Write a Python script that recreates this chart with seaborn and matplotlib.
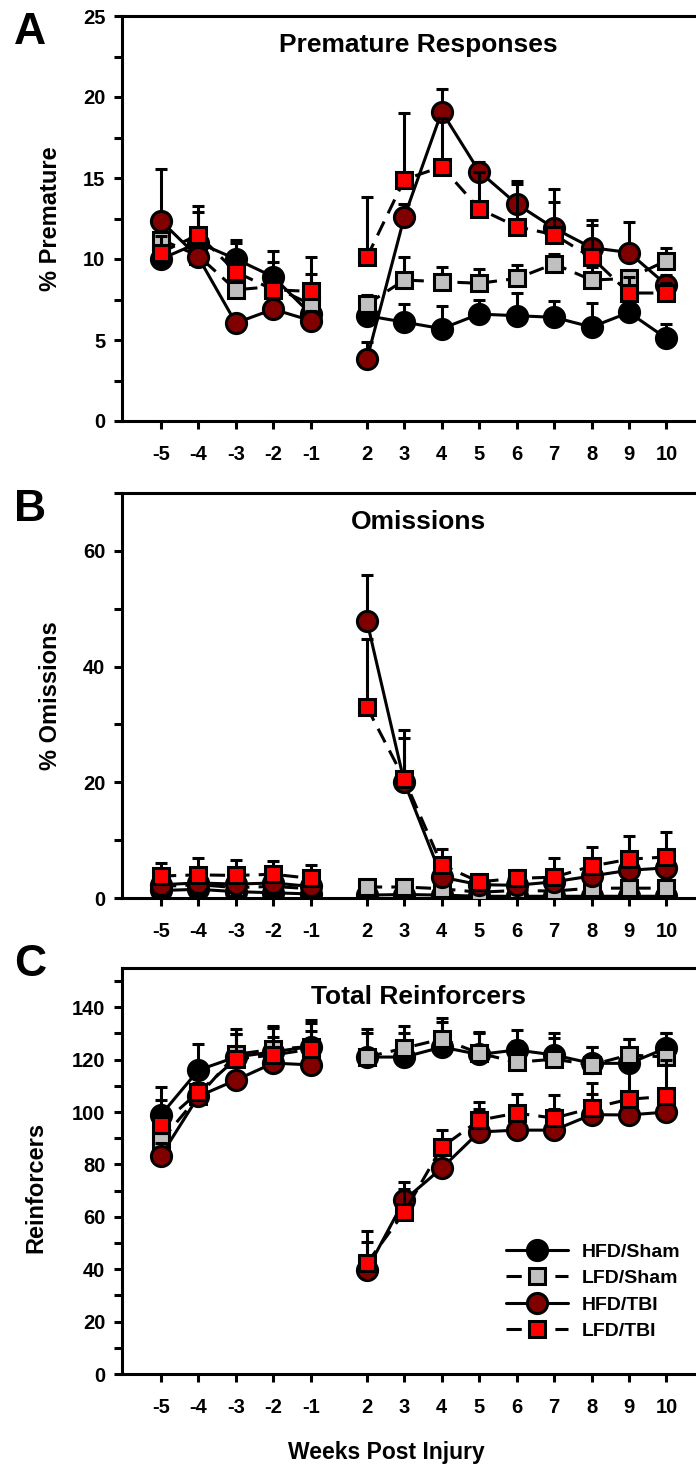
import numpy as np
import pandas as pd
import matplotlib
matplotlib.use("Agg")
import matplotlib.pyplot as plt
from matplotlib.lines import Line2D
from matplotlib.ticker import MultipleLocator
import seaborn as sns

weeks = [-5, -4, -3, -2, -1, 2, 3, 4, 5, 6, 7, 8, 9, 10]
groups = ["HFD/Sham", "LFD/Sham", "HFD/TBI", "LFD/TBI"]

# A - premature responses (%), mean and SEM
prem_hfd_sham = [10.0, 11.0, 10.0, 8.9, 6.6, 6.5, 6.1, 5.7, 6.6, 6.5, 6.4, 5.8, 6.7, 5.1]
prem_hfd_sham_err = [1.0, 1.9, 1.2, 1.6, 0.8, 0.8, 1.1, 1.4, 0.9, 1.4, 1.0, 1.5, 0.6, 0.9]
prem_lfd_sham = [11.2, 10.2, 8.1, 8.3, 7.2, 7.2, 8.7, 8.6, 8.5, 8.8, 9.7, 8.7, 8.8, 9.9]
prem_lfd_sham_err = [0.8, 1.0, 0.6, 0.8, 1.9, 0.6, 1.4, 0.9, 0.9, 0.8, 0.6, 0.8, 0.5, 0.8]
prem_hfd_tbi = [12.35, 10.1, 6.05, 6.9, 6.2, 3.8, 12.6, 19.1, 15.4, 13.4, 11.9, 10.7, 10.4, 8.4]
prem_hfd_tbi_err = [3.2, 0.8, 0.5, 0.6, 0.6, 1.1, 0.8, 1.4, 0.6, 1.4, 2.4, 1.7, 1.9, 0.6]
prem_lfd_tbi = [10.4, 11.5, 9.2, 8.1, 8.0, 10.1, 14.9, 15.7, 13.1, 12.0, 11.5, 10.1, 7.9, 7.9]
prem_lfd_tbi_err = [1.0, 1.8, 1.8, 1.7, 2.1, 3.7, 4.1, 3.0, 2.3, 2.6, 2.0, 2.0, 1.0, 0.6]

# B - omissions (%)
omis_hfd_sham = [1.3, 1.5, 1.1, 0.9, 0.7, 0.5, 0.6, 0.5, 0.3, 0.3, 0.3, 0.3, 0.3, 0.3]
omis_hfd_sham_err = [0.5, 0.5, 0.4, 0.4, 0.3, 0.3, 0.3, 0.3, 0.2, 0.2, 0.2, 0.2, 0.2, 0.2]
omis_lfd_sham = [2.0, 2.3, 1.8, 2.0, 1.6, 1.9, 1.9, 1.6, 1.0, 1.3, 1.2, 1.7, 1.7, 1.7]
omis_lfd_sham_err = [0.8, 0.8, 0.7, 0.7, 0.6, 0.4, 0.5, 0.5, 0.4, 0.4, 0.4, 0.5, 0.5, 0.5]
omis_hfd_tbi = [2.3, 2.6, 2.4, 2.6, 2.0, 47.9, 20.0, 3.6, 2.3, 2.2, 2.8, 3.8, 4.8, 5.2]
omis_hfd_tbi_err = [0.8, 0.9, 0.8, 0.8, 0.7, 8.0, 7.6, 1.0, 0.7, 0.7, 1.0, 1.2, 1.4, 1.5]
omis_lfd_tbi = [3.8, 4.0, 3.9, 4.1, 3.4, 33.0, 20.5, 5.7, 2.8, 3.4, 3.6, 5.5, 6.7, 7.1]
omis_lfd_tbi_err = [2.2, 2.9, 2.7, 2.3, 2.3, 11.8, 8.6, 2.7, 0.8, 1.5, 3.3, 3.3, 4.0, 4.3]

# C - total reinforcers
rein_hfd_sham = [98.9, 116.0, 121.0, 123.0, 125.0, 121.0, 121.0, 124.8, 122.0, 123.7, 121.8, 118.6, 118.6, 124.4]
rein_hfd_sham_err = [10.7, 10.0, 10.7, 9.8, 10.0, 9.0, 9.0, 9.5, 8.0, 7.6, 8.4, 6.2, 9.4, 5.6]
rein_lfd_sham = [89.0, 106.0, 122.0, 124.0, 125.0, 121.0, 124.4, 127.9, 122.5, 119.0, 120.2, 118.0, 121.8, 121.0]
rein_lfd_sham_err = [8.0, 8.0, 7.8, 8.0, 9.0, 10.6, 8.6, 8.1, 8.1, 8.0, 8.0, 6.8, 6.2, 9.0]
rein_hfd_tbi = [83.3, 106.0, 112.2, 118.7, 118.0, 39.7, 66.4, 78.6, 92.4, 93.1, 93.1, 99.0, 98.9, 100.0]
rein_hfd_tbi_err = [5.0, 5.0, 5.0, 5.0, 5.0, 10.7, 6.9, 6.0, 8.6, 8.0, 8.0, 8.0, 8.0, 8.0]
rein_lfd_tbi = [95.0, 107.6, 120.2, 121.8, 124.0, 42.3, 61.8, 86.6, 96.9, 99.6, 97.7, 101.5, 104.9, 106.0]
rein_lfd_tbi_err = [9.6, 8.0, 9.6, 7.0, 7.0, 12.3, 9.0, 6.4, 6.9, 7.4, 8.8, 9.5, 13.0, 14.0]

# pre-injury weeks sit at 0..4, post-injury weeks after a half-step gap
pos = [i if w < 0 else i + 0.5 for i, w in enumerate(weeks)]


def make_df(series, errs):
    frames = []
    for g, vals, ee in zip(groups, series, errs):
        frames.append(pd.DataFrame({
            "week": weeks, "pos": pos, "group": g, "value": vals, "err": ee,
            "phase": ["pre" if w < 0 else "post" for w in weeks],
        }))
    return pd.concat(frames, ignore_index=True)


df_a = make_df([prem_hfd_sham, prem_lfd_sham, prem_hfd_tbi, prem_lfd_tbi],
               [prem_hfd_sham_err, prem_lfd_sham_err, prem_hfd_tbi_err, prem_lfd_tbi_err])
df_b = make_df([omis_hfd_sham, omis_lfd_sham, omis_hfd_tbi, omis_lfd_tbi],
               [omis_hfd_sham_err, omis_lfd_sham_err, omis_hfd_tbi_err, omis_lfd_tbi_err])
df_c = make_df([rein_hfd_sham, rein_lfd_sham, rein_hfd_tbi, rein_lfd_tbi],
               [rein_hfd_sham_err, rein_lfd_sham_err, rein_hfd_tbi_err, rein_lfd_tbi_err])

dash = (0, (5, 3))
style = {
    "HFD/Sham": dict(marker="o", face="black", ls="-", ms=14.5),
    "LFD/Sham": dict(marker="s", face="#c0c0c0", ls=dash, ms=11.5),
    "HFD/TBI": dict(marker="o", face="#800000", ls="-", ms=14.5),
    "LFD/TBI": dict(marker="s", face="#ff0000", ls=dash, ms=11.5),
}

sns.set_theme(style="ticks")
plt.rcParams["font.family"] = ["Liberation Sans", "DejaVu Sans"]
plt.rcParams["font.weight"] = "bold"
plt.rcParams["axes.labelweight"] = "bold"
plt.rcParams["text.color"] = "black"
plt.rcParams["axes.labelcolor"] = "black"
plt.rcParams["xtick.color"] = "black"
plt.rcParams["ytick.color"] = "black"

fig = plt.figure(figsize=(6.96, 14.66), dpi=100)
W, H = 696.0, 1466.0
left = 122 / W
width = (W - 122) / W
rects = [(421, 405), (898, 405), (1374, 406)]
axes = [fig.add_axes([left, (H - b) / H, width, h / H]) for b, h in rects]

panels = [
    (axes[0], df_a, "Premature Responses", "% Premature", 25, 5, 2.5, "A", 16),
    (axes[1], df_b, "Omissions", "% Omissions", 70, 20, 10, "B", 493),
    (axes[2], df_c, "Total Reinforcers", "Reinforcers", 155, 20, 10, "C", 948),
]

for ax, df, title, ylab, ytop, major, minor, letter, ly in panels:
    for k, g in enumerate(groups):
        sub = df[df.group == g]
        st = style[g]
        z = 3 + 2 * k
        ax.errorbar(sub.pos, sub.value, yerr=[np.zeros(len(sub)), sub.err], fmt="none",
                    ecolor="black", elinewidth=2.2, capsize=4.5, capthick=2.2, zorder=z)
        sns.lineplot(data=sub, x="pos", y="value", units="phase", estimator=None, ax=ax,
                     color="black", linestyle=st["ls"], linewidth=2.2, marker=st["marker"],
                     markersize=st["ms"], markerfacecolor=st["face"], markeredgecolor="black",
                     markeredgewidth=2.2, zorder=z + 1, legend=False)

    ax.set_xlim(-1.04, 14.29)
    ax.set_ylim(0, ytop)
    ax.set_xticks(pos)
    ax.set_xticklabels([str(w) for w in weeks])
    ax.yaxis.set_major_locator(MultipleLocator(major))
    ax.yaxis.set_minor_locator(MultipleLocator(minor))
    ax.spines["right"].set_visible(False)
    for s in ["left", "top", "bottom"]:
        ax.spines[s].set_linewidth(2.2)
        ax.spines[s].set_color("black")
    ax.tick_params(axis="both", which="both", direction="out", length=6, width=2.2,
                   labelsize=14.5, colors="black")
    ax.tick_params(axis="x", pad=11)
    ax.tick_params(axis="y", pad=6)
    ax.set_xlabel("")
    ax.set_ylabel(ylab, fontsize=17, fontweight="bold", color="black")
    ax.yaxis.set_label_coords(-0.105, 0.5)
    ax.text(0.516, 0.912, title, transform=ax.transAxes, ha="center", va="baseline",
            fontsize=19, fontweight="bold", color="black")
    fig.text(14 / W, 1 - (ly - 4) / H, letter, ha="left", va="top", fontsize=32,
             fontweight="bold", color="black")

axes[2].yaxis.set_label_coords(-0.13, 0.46)
axes[2].set_xlabel("Weeks Post Injury", fontsize=16.5, fontweight="bold", color="black")
axes[2].xaxis.set_label_coords(0.46, -0.165)

handles = [Line2D([], [], color="black", linestyle=style[g]["ls"], linewidth=2.2,
                  marker=style[g]["marker"], markersize=style[g]["ms"],
                  markerfacecolor=style[g]["face"], markeredgecolor="black", markeredgewidth=2.2)
           for g in groups]
leg = axes[2].legend(handles, groups, loc="upper left", bbox_to_anchor=(0.669, 0.322),
                     frameon=False, handlelength=3.2, handletextpad=0.7,
                     labelspacing=0.45, borderpad=0, borderaxespad=0,
                     prop={"weight": "bold", "size": 14})
for t in leg.get_texts():
    t.set_color("black")

fig.savefig("out.png", dpi=100)
